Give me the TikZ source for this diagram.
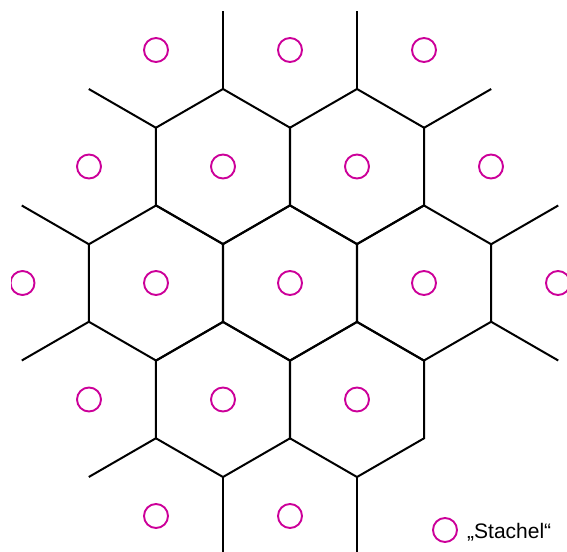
\documentclass[tikz,border=0pt]{standalone}
\usepackage{fontspec}
\setmainfont{Liberation Sans}
\definecolor{stachel}{RGB}{204,0,153}
\begin{document}
\begin{tikzpicture}[x=1pt,y=-1pt,
  cell/.style={draw=black,line width=2pt,line join=miter,line cap=butt},
  site/.style={circle,draw=stachel,line width=1.9pt,minimum size=24pt,inner sep=0pt},
  lbl/.style={font=\fontsize{21}{24}\selectfont,anchor=base west,inner sep=0pt}]
\def\R{77.5}
\useasboundingbox (0,0) rectangle (567,551);
\clip (11,0) rectangle (567,551);
% hexagon vertices: 1 top, 2 upper-right, 3 lower-right, 4 bottom, 5 lower-left, 6 upper-left
\foreach \n/\cx/\cy in {A/223/166.5,B/357/166.5,C/156/283,D/290/283,E/424/283,F/223/399.5,G/357/399.5}{
  \foreach \a in {1,...,6}{
    \path (\cx,\cy) ++({-150+60*\a}:\R) coordinate (\n-\a);
  }
  \draw[cell] (\n-1) -- (\n-2) -- (\n-3) -- (\n-4) -- (\n-5) -- (\n-6) -- cycle;
}
% free ends of the outer edges
\path (A-1) ++(-90:\R) coordinate (eA1);
\path (B-1) ++(-90:\R) coordinate (eB1);
\path (A-6) ++(210:\R) coordinate (eA6);
\path (B-2) ++(-30:\R) coordinate (eB2);
\path (C-6) ++(210:\R) coordinate (eC6);
\path (E-2) ++(-30:\R) coordinate (eE2);
\path (C-5) ++(150:\R) coordinate (eC5);
\path (E-3) ++(30:\R) coordinate (eE3);
\path (F-5) ++(150:\R) coordinate (eF5);
\path (F-4) ++(90:\R) coordinate (eF4);
\path (G-4) ++(90:\R) coordinate (eG4);
\draw[cell] (A-1) -- (eA1);
\draw[cell] (B-1) -- (eB1);
\draw[cell] (A-6) -- (eA6);
\draw[cell] (B-2) -- (eB2);
\draw[cell] (C-6) -- (eC6);
\draw[cell] (E-2) -- (eE2);
\draw[cell] (C-5) -- (eC5);
\draw[cell] (E-3) -- (eE3);
\draw[cell] (F-5) -- (eF5);
\draw[cell] (F-4) -- (eF4);
\draw[cell] (G-4) -- (eG4);
% sites
\foreach \n/\x/\y in {
  s11/156/50, s12/290/50, s13/424/50,
  s21/89/166.5, s22/223/166.5, s23/357/166.5, s24/491/166.5,
  s31/22.5/283, s32/156/283, s33/290/283, s34/424/283, s35/558/283,
  s41/89/399.5, s42/223/399.5, s43/357/399.5,
  s51/156/516, s52/290/516}{
  \node[site] (\n) at (\x,\y) {};
}
% legend
\node[site] (leg) at (445,530) {};
\node[lbl] (legtext) at (467,538.5) {„Stachel“};
\end{tikzpicture}
\end{document}
